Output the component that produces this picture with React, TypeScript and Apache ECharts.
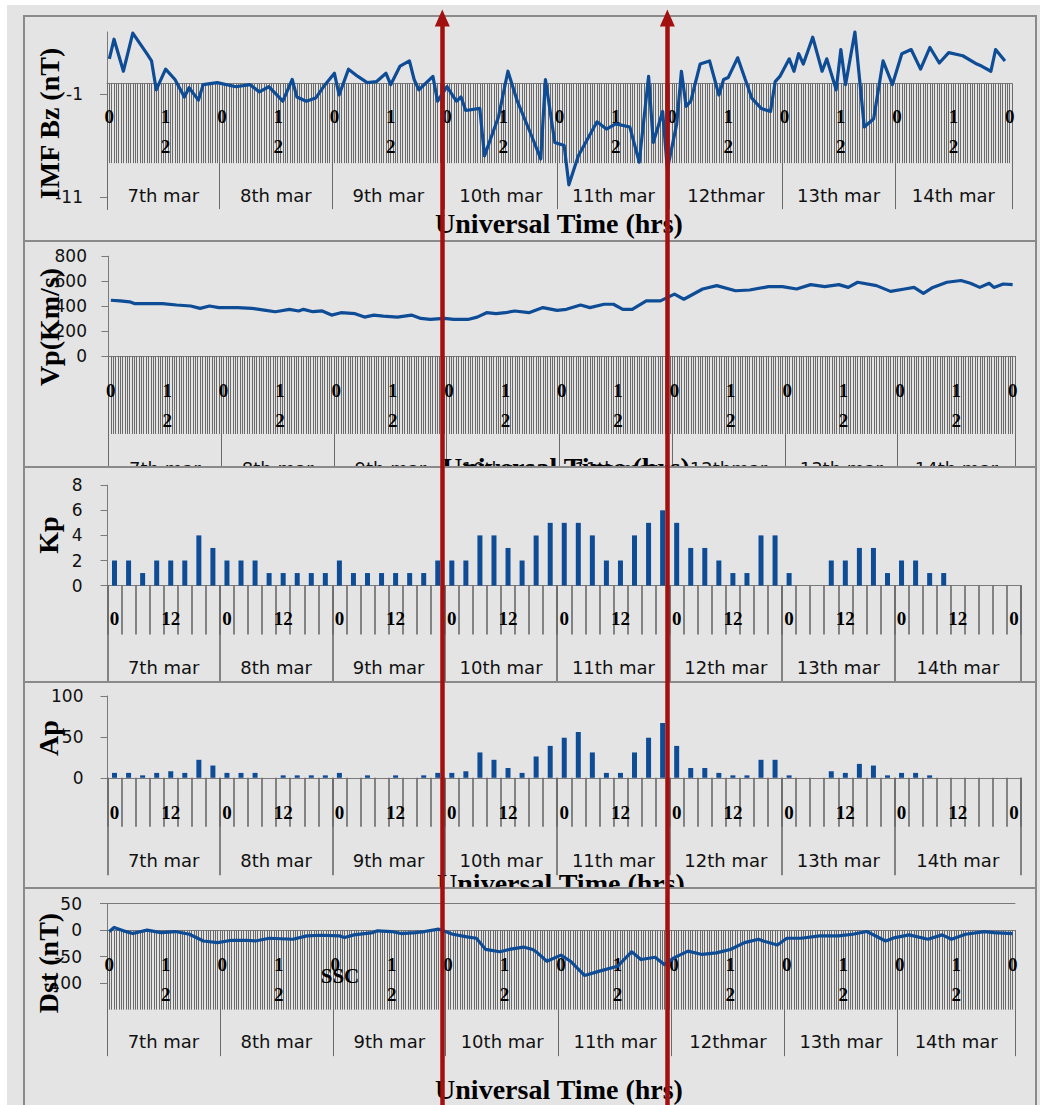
import React, { useEffect, useRef } from 'react';
import * as echarts from 'echarts';

// ---------- categories & tick labels ----------
const hourlyDays = ['7th mar', '8th mar', '9th mar', '10th mar', '11th mar', '12thmar', '13th mar', '14th mar'];
const threeHourDays = ['7th mar', '8th mar', '9th mar', '10th mar', '11th mar', '12th mar', '13th mar', '14th mar'];
const hourlyTickLabels = ['0', '1\n2'];
const threeHourTickLabels = ['0', '12'];
const dayNumbers = [7, 8, 9, 10, 11, 12, 13, 14];

// hourly slots 7 Mar 00 UT .. 15 Mar 00 UT
const hourSlots: string[] = [];
dayNumbers.forEach((d) => { for (let h = 0; h < 24; h++) hourSlots.push(`${d} Mar ${h}:00`); });
hourSlots.push('15 Mar 0:00');
// half-hour slots, used only for the fine tick comb under the hourly panels
const halfHourSlots: string[] = [];
hourSlots.forEach((s) => { halfHourSlots.push(s, s.replace(':00', ':30')); });
// three-hourly slots for the planetary indices
const kpSlots: string[] = [];
dayNumbers.forEach((d) => { for (let h = 0; h < 24; h += 3) kpSlots.push(`${d} Mar ${h}:00`); });
kpSlots.push('15 Mar 0:00');

// ---------- data ----------
// IMF Bz (nT): [hour since 7 Mar 00 UT, value]
const bzSeries = [
  [0, 2.4], [1, 4.3], [3, 1.2], [5, 4.9], [8, 2.9], [9, 2.2], [10, -0.6], [12, 1.4], [14, 0.4], [16, -1.3],
  [17, -0.4], [19, -1.6], [20, -0.1], [23, 0.1], [27, -0.3], [30, -0.1], [32, -0.8], [34, -0.3], [37, -1.7], [39, 0.4],
  [40, -1.3], [42, -1.7], [44, -1.4], [46, -0.1], [48, 1.0], [49, -1.1], [51, 1.4], [53, 0.7], [55, 0.1], [57, 0.2],
  [59, 1.0], [60, -0.1], [62, 1.7], [64, 2.2], [65, 0.4], [66, -0.6], [69, 0.7], [70, -1.7], [72, -0.3], [74, -1.7],
  [75, -1.3], [76, -2.6], [79, -2.4], [80, -7.0], [83, -3.2], [85, 1.2], [87, -1.7], [90, -5.0], [92, -7.3], [93, 0.4],
  [95, -5.7], [97, -6.0], [98, -9.8], [100, -7.0], [104, -3.7], [106, -4.4], [108, -3.9], [111, -4.2], [113, -7.6], [115, 0.7],
  [116, -5.7], [118, -2.7], [119, -8.3], [121, -3.9], [122, 1.2], [123, -2.2], [124, -1.7], [126, 1.9], [128, 2.2], [130, -1.1],
  [131, 0.4], [132, 0.6], [134, 2.5], [137, -1.4], [139, -2.4], [141, -2.7], [142, 0.2], [143, 0.7], [145, 2.4], [146, 1.2],
  [147, 2.9], [148, 1.9], [150, 4.5], [152, 1.2], [153, 2.4], [155, -0.6], [156, 3.3], [157, -0.1], [159, 5.0], [161, -4.2],
  [163, -3.4], [165, 2.2], [167, -0.1], [169, 2.9], [171, 3.3], [173, 1.4], [175, 3.5], [177, 2.0], [179, 3.0], [182, 2.7],
  [185, 1.9], [186, 1.7], [188, 1.2], [189, 3.3], [191, 2.2],
];

// Solar wind speed Vp (km/s)
const vpSeries = [
  [0, 447], [2, 442], [4, 434], [5, 420], [7, 420], [11, 420], [14, 409], [17, 401], [19, 382], [21, 401],
  [23, 388], [27, 388], [30, 382], [33, 366], [35, 355], [36, 361], [38, 374], [40, 361], [41, 374], [43, 355],
  [45, 361], [47, 328], [49, 347], [52, 339], [54, 312], [56, 328], [58, 320], [61, 312], [64, 328], [66, 301],
  [68, 293], [71, 301], [73, 293], [76, 293], [78, 312], [80, 347], [82, 339], [84, 347], [86, 361], [89, 347],
  [92, 388], [95, 366], [97, 374], [100, 409], [102, 388], [105, 415], [107, 415], [109, 374], [111, 374], [114, 442],
  [117, 442], [120, 496], [122, 455], [126, 537], [129, 564], [133, 523], [136, 529], [140, 556], [143, 556], [146, 537],
  [149, 572], [152, 556], [155, 572], [157, 550], [159, 591], [163, 564], [166, 518], [169, 537], [171, 550], [173, 502],
  [175, 550], [178, 591], [181, 605], [183, 583], [185, 550], [187, 583], [188, 550], [190, 577], [192, 572],
];

// Three-hourly Kp and ap
const kpValues = [
  2, 2, 1, 2, 2, 2, 4, 3,
  2, 2, 2, 1, 1, 1, 1, 1,
  2, 1, 1, 1, 1, 1, 1, 2,
  2, 2, 4, 4, 3, 2, 4, 5,
  5, 5, 4, 2, 2, 4, 5, 6,
  5, 3, 3, 2, 1, 1, 4, 4,
  1, 0, 0, 2, 2, 3, 3, 1,
  2, 2, 1, 1, 0, 0, 0, 0,
  null,
];
const apValues = [
  6, 6, 3, 6, 8, 6, 22, 15,
  6, 6, 6, 0, 3, 3, 3, 3,
  6, 0, 3, 0, 3, 0, 3, 6,
  6, 8, 31, 22, 12, 6, 26, 39,
  49, 56, 31, 6, 6, 31, 49, 67,
  39, 12, 12, 6, 3, 3, 22, 22,
  3, 0, 0, 8, 6, 17, 15, 3,
  6, 6, 3, 0, 0, 0, 0, 0,
  null,
];

// Dst index (nT)
const dstSeries = [
  [0, -2.6], [1, 5.1], [3, -1.3], [5, -6.4], [8, 0], [11, -4.5], [14, -2.6], [17, -7.7], [20, -20.4], [23, -23.6],
  [26, -19.1], [29, -19.1], [31, -20.4], [34, -15.3], [39, -17.2], [42, -10.8], [45, -9.6], [49, -10.8], [50, -14.0], [52, -8.9],
  [56, -4.5], [57, -1.3], [60, -2.6], [62, -6.4], [65, -4.5], [67, -2.6], [70, 1.9], [71, -1.3], [73, -7.7], [76, -12.8],
  [78, -15.3], [80, -36.4], [83, -40.8], [85, -36.4], [88, -31.9], [90, -36.4], [91, -42.8], [93, -58.7], [96, -47.2], [98, -58.7],
  [101, -85.5], [104, -77.9], [108, -68.3], [111, -40.8], [113, -55.5], [116, -51.1], [118, -65.1], [120, -52.3], [123, -39.6], [126, -45.9],
  [129, -42.8], [132, -36.4], [135, -23.6], [138, -17.2], [139, -20.4], [142, -28.1], [144, -15.3], [147, -15.3], [151, -10.8], [155, -10.8],
  [158, -7.7], [161, -2.6], [165, -20.4], [167, -14.0], [170, -8.9], [174, -17.2], [177, -8.9], [179, -17.2], [182, -7.7], [186, -2.6],
  [188, -4.5], [192, -6.4],
];

// y-axis ranges and tick values
const bzRange = [-12.2, 5];
const bzTicks = [-11, -1];
const vpRange = [0, 800];
const kpRange = [0, 8];
const apRange = [0, 100];
const dstRange = [-100, 50];
// storm interval markers
const stormMarkers = ['9 Mar 23:00', '11 Mar 23:00'];

// ---------- styling ----------
const SERIF = '"Liberation Serif", "Times New Roman", serif';
const SANS = '"DejaVu Sans", Verdana, sans-serif';
const BLUE = '#0e4c96';
const RED = '#a31010';
const AXIS = '#7a7a7a';
const TICK = '#6a6a6a';
const BG = '#e4e4e4';
const PANEL_LEFT = 23;
const PANEL_WIDTH = 1014;
const BORDER = 2;

type Box = { top: number; height: number };
const boxes: Record<string, Box> = {
  bz: { top: 15, height: 227 },
  vp: { top: 240, height: 228 },
  kp: { top: 466, height: 217 },
  ap: { top: 681, height: 208 },
  dst: { top: 887, height: 230 },
};

const lx = (x: number) => x - PANEL_LEFT - BORDER;
const ly = (box: Box, y: number) => y - box.top - BORDER;

function gridFor(box: Box, x0: number, x1: number, y0: number, y1: number) {
  return {
    left: lx(x0), top: ly(box, y0), width: x1 - x0, height: y1 - y0,
    containLabel: false, outerBoundsMode: 'none',
  };
}

// distance (px, negative = upwards) from the grid bottom to the zero line of a value range
const zeroLift = (range: number[], plotHeight: number) => -((0 - range[0]) / (range[1] - range[0])) * plotHeight;

function text(box: Box, x: number, y: number, str: string, size: number, opts: any = {}) {
  return {
    type: 'text', x: lx(x), y: ly(box, y), rotation: opts.vertical ? Math.PI / 2 : 0, z: 20,
    style: {
      text: str, fontSize: size, fontFamily: opts.family || SERIF, fontWeight: opts.weight || 'bold',
      fill: '#000', align: 'center', verticalAlign: 'middle', textAlign: 'center', textVerticalAlign: 'middle',
    },
  };
}

function timeAxes(o: {
  slots: string[]; perDay: number; days: string[]; tickLabels: string[]; labelEvery: number;
  hourTick: number; dayTick: number; hourMargin: number; dayMargin: number; hourLineHeight: number;
  catWidth: number; offset: number; comb?: string[]; tickWidth: number;
}) {
  const last = o.slots.length - 1;
  const dayFont = { fontFamily: SANS, fontSize: 18, lineHeight: 20, color: '#111' };
  const tickStyle = { color: TICK, width: o.tickWidth };
  const axes: any[] = [
    {
      type: 'category', data: o.slots, position: 'bottom', boundaryGap: true, offset: o.offset,
      axisLine: { show: true, onZero: false, lineStyle: { color: AXIS, width: 1 } },
      axisTick: { show: !o.comb, interval: 0, length: o.hourTick, lineStyle: tickStyle },
      axisLabel: {
        interval: (i: number) => i % o.labelEvery === 0,
        formatter: (_v: string, i: number) => o.tickLabels[(i % o.perDay) / o.labelEvery],
        margin: o.hourMargin, fontFamily: SERIF, fontWeight: 'bold', fontSize: 19,
        lineHeight: o.hourLineHeight, color: '#000',
      },
      splitLine: { show: false },
    },
    {
      type: 'category', data: o.slots, position: 'bottom', boundaryGap: true, offset: o.offset,
      axisLine: { show: false, onZero: false },
      axisTick: {
        show: true, interval: (i: number) => i % o.perDay === 0 && i < last,
        length: o.dayTick, lineStyle: tickStyle,
      },
      axisLabel: {
        interval: (i: number) => i % o.perDay === o.perDay / 2,
        formatter: (_v: string, i: number) => {
          const d = Math.floor(i / o.perDay);
          return d === o.days.length - 1 ? `{last|${o.days[d]}}` : `{mid|${o.days[d]}}`;
        },
        margin: o.dayMargin, ...dayFont,
        rich: { mid: { ...dayFont, padding: [0, o.catWidth, 0, 0] }, last: { ...dayFont } },
      },
      splitLine: { show: false },
    },
  ];
  if (o.comb) {
    axes.push({
      type: 'category', data: o.comb, position: 'bottom', boundaryGap: true, offset: o.offset,
      axisLine: { show: false, onZero: false },
      axisTick: { show: true, interval: 0, length: o.hourTick, lineStyle: tickStyle },
      axisLabel: { show: false }, splitLine: { show: false },
    });
  }
  return axes;
}

function valueAxis(o: { range: number[]; interval?: number; ticks?: number[]; margin: number }) {
  return {
    type: 'value', min: o.range[0], max: o.range[1], ...(o.interval ? { interval: o.interval } : {}), position: 'left',
    axisLine: { show: true, onZero: false, lineStyle: { color: AXIS, width: 1 } },
    axisTick: { show: true, length: 7, lineStyle: { color: AXIS }, ...(o.ticks ? { customValues: o.ticks } : {}) },
    axisLabel: {
      margin: o.margin, fontFamily: SANS, fontSize: 17, color: '#111',
      ...(o.ticks ? { customValues: o.ticks } : {}),
    },
    splitLine: { show: false },
  };
}

const lineSeries = (data: number[][]) => ({
  type: 'line', data, symbol: 'none', z: 5, silent: true, clip: false,
  lineStyle: { color: BLUE, width: 3.2, join: 'round' },
});
const barSeries = (data: (number | null)[]) => ({
  type: 'bar', data, barWidth: 5, z: 5, silent: true, itemStyle: { color: BLUE },
});

// ---------- panel options ----------
const bzPlot = { x0: 107, x1: 1012, y0: 32, y1: 209.6 };
const bzOption = {
  animation: false,
  grid: gridFor(boxes.bz, bzPlot.x0, bzPlot.x1, bzPlot.y0, bzPlot.y1),
  xAxis: timeAxes({
    slots: hourSlots, perDay: 24, days: hourlyDays, tickLabels: hourlyTickLabels, labelEvery: 12,
    hourTick: 79.5, dayTick: 125.5, hourMargin: 17.5, dayMargin: 101.5, hourLineHeight: 30,
    catWidth: (bzPlot.x1 - bzPlot.x0) / hourSlots.length, offset: zeroLift(bzRange, bzPlot.y1 - bzPlot.y0),
    comb: halfHourSlots, tickWidth: 1,
  }),
  yAxis: valueAxis({ range: bzRange, ticks: bzTicks, margin: 24 }),
  series: [lineSeries(bzSeries)],
  graphic: [
    text(boxes.bz, 49, 123.5, 'IMF Bz (nT)', 28, { vertical: true }),
    text(boxes.bz, 559, 223, 'Universal Time (hrs)', 28),
  ],
};

const vpPlot = { x0: 108.5, x1: 1015, y0: 256.2, y1: 356 };
const vpOption = {
  animation: false,
  grid: gridFor(boxes.vp, vpPlot.x0, vpPlot.x1, vpPlot.y0, vpPlot.y1),
  xAxis: timeAxes({
    slots: hourSlots, perDay: 24, days: hourlyDays, tickLabels: hourlyTickLabels, labelEvery: 12,
    hourTick: 78, dayTick: 125, hourMargin: 19.5, dayMargin: 102, hourLineHeight: 30,
    catWidth: (vpPlot.x1 - vpPlot.x0) / hourSlots.length, offset: 0, comb: halfHourSlots, tickWidth: 1,
  }),
  yAxis: valueAxis({ range: vpRange, interval: 200, margin: 21.5 }),
  series: [lineSeries(vpSeries)],
  graphic: [
    text(boxes.vp, 49, 327, 'Vp(Km/s)', 28, { vertical: true }),
    text(boxes.vp, 566, 467, 'Universal Time (hrs)', 28),
  ],
};

const kpPlot = { x0: 107.5, x1: 1021, y0: 485.2, y1: 585.6 };
const kpOption = {
  animation: false,
  grid: gridFor(boxes.kp, kpPlot.x0, kpPlot.x1, kpPlot.y0, kpPlot.y1),
  xAxis: timeAxes({
    slots: kpSlots, perDay: 8, days: threeHourDays, tickLabels: threeHourTickLabels, labelEvery: 4,
    hourTick: 49, dayTick: 97.5, hourMargin: 23, dayMargin: 71.5, hourLineHeight: 20,
    catWidth: (kpPlot.x1 - kpPlot.x0) / kpSlots.length, offset: 0, tickWidth: 1.6,
  }),
  yAxis: valueAxis({ range: kpRange, interval: 2, margin: 25 }),
  series: [barSeries(kpValues)],
  graphic: [text(boxes.kp, 48, 535, 'Kp', 28, { vertical: true })],
};

const apPlot = { x0: 107.5, x1: 1021, y0: 696, y1: 777.8 };
const apOption = {
  animation: false,
  grid: gridFor(boxes.ap, apPlot.x0, apPlot.x1, apPlot.y0, apPlot.y1),
  xAxis: timeAxes({
    slots: kpSlots, perDay: 8, days: threeHourDays, tickLabels: threeHourTickLabels, labelEvery: 4,
    hourTick: 49, dayTick: 97.5, hourMargin: 25, dayMargin: 72.5, hourLineHeight: 20,
    catWidth: (apPlot.x1 - apPlot.x0) / kpSlots.length, offset: 0, tickWidth: 1.6,
  }),
  yAxis: valueAxis({ range: apRange, interval: 50, margin: 24 }),
  series: [barSeries(apValues)],
  graphic: [
    text(boxes.ap, 48, 738, 'Ap', 28, { vertical: true }),
    text(boxes.ap, 561, 883, 'Universal Time (hrs)', 28),
  ],
};

const dstPlot = { x0: 107, x1: 1015, y0: 903.7, y1: 983.1 };
const dstAxes: any[] = timeAxes({
  slots: hourSlots, perDay: 24, days: hourlyDays, tickLabels: hourlyTickLabels, labelEvery: 12,
  hourTick: 79.5, dayTick: 126, hourMargin: 19.5, dayMargin: 101.5, hourLineHeight: 30,
  catWidth: (dstPlot.x1 - dstPlot.x0) / hourSlots.length, offset: zeroLift(dstRange, dstPlot.y1 - dstPlot.y0),
  comb: halfHourSlots, tickWidth: 1,
});
// upper frame line of the Dst plot area
dstAxes.push({
  type: 'category', data: hourSlots, position: 'top', boundaryGap: true,
  axisLine: { show: true, onZero: false, lineStyle: { color: AXIS, width: 1 } },
  axisTick: { show: false }, axisLabel: { show: false }, splitLine: { show: false },
});
const dstOption = {
  animation: false,
  grid: gridFor(boxes.dst, dstPlot.x0, dstPlot.x1, dstPlot.y0, dstPlot.y1),
  xAxis: dstAxes,
  yAxis: valueAxis({ range: dstRange, interval: 50, margin: 25 }),
  series: [lineSeries(dstSeries)],
  graphic: [
    text(boxes.dst, 48, 963, 'Dst (nT)', 28, { vertical: true }),
    text(boxes.dst, 340, 976, 'SSC', 21),
    text(boxes.dst, 559, 1089, 'Universal Time (hrs)', 28),
  ],
};

// red arrows spanning every panel at the storm markers
const overlayOption = {
  animation: false,
  grid: { left: 107, top: 18, width: 905, height: 1087, containLabel: false, outerBoundsMode: 'none' },
  xAxis: { type: 'category', data: hourSlots, boundaryGap: true, show: false },
  yAxis: { type: 'value', min: 0, max: 1, show: false },
  series: [{
    type: 'line', data: [], silent: true,
    markLine: {
      silent: true, animation: false,
      symbol: ['none', 'triangle'], symbolSize: [15, 17],
      label: { show: false },
      itemStyle: { color: RED },
      lineStyle: { color: RED, width: 4.5, type: 'solid', opacity: 1 },
      emphasis: { disabled: true },
      data: stormMarkers.map((m) => [{ coord: [m, 0] }, { coord: [m, 1] }]),
    },
  }],
};

// ---------- components ----------
function EChart({ option, width, height, style }: { option: any; width: number; height: number; style?: any }) {
  const ref = useRef<HTMLDivElement>(null);
  useEffect(() => {
    const chart = echarts.init(ref.current!, null, { renderer: 'svg', width, height });
    chart.setOption(option);
    return () => chart.dispose();
  }, [option, width, height]);
  return <div ref={ref} style={{ width, height, ...style }} />;
}

function Panel({ box, option }: { box: Box; option: any }) {
  return (
    <div
      style={{
        position: 'absolute', left: PANEL_LEFT, top: box.top, width: PANEL_WIDTH, height: box.height,
        boxSizing: 'border-box', border: `${BORDER}px solid #8a8a8a`, background: BG, overflow: 'hidden',
      }}
    >
      <EChart option={option} width={PANEL_WIDTH - 2 * BORDER} height={box.height - 2 * BORDER} />
    </div>
  );
}

export default function App() {
  return (
    <div style={{ position: 'absolute', left: 0, top: 0, width: 1060, height: 1105, overflow: 'hidden', background: '#fff' }}>
      <div style={{ position: 'absolute', left: 7, top: 5, width: 1033, height: 1100, background: BG }} />
      <Panel box={boxes.bz} option={bzOption} />
      <Panel box={boxes.vp} option={vpOption} />
      <Panel box={boxes.kp} option={kpOption} />
      <Panel box={boxes.ap} option={apOption} />
      <Panel box={boxes.dst} option={dstOption} />
      <EChart
        option={overlayOption}
        width={1060}
        height={1105}
        style={{ position: 'absolute', left: 0, top: 0, pointerEvents: 'none' }}
      />
    </div>
  );
}
